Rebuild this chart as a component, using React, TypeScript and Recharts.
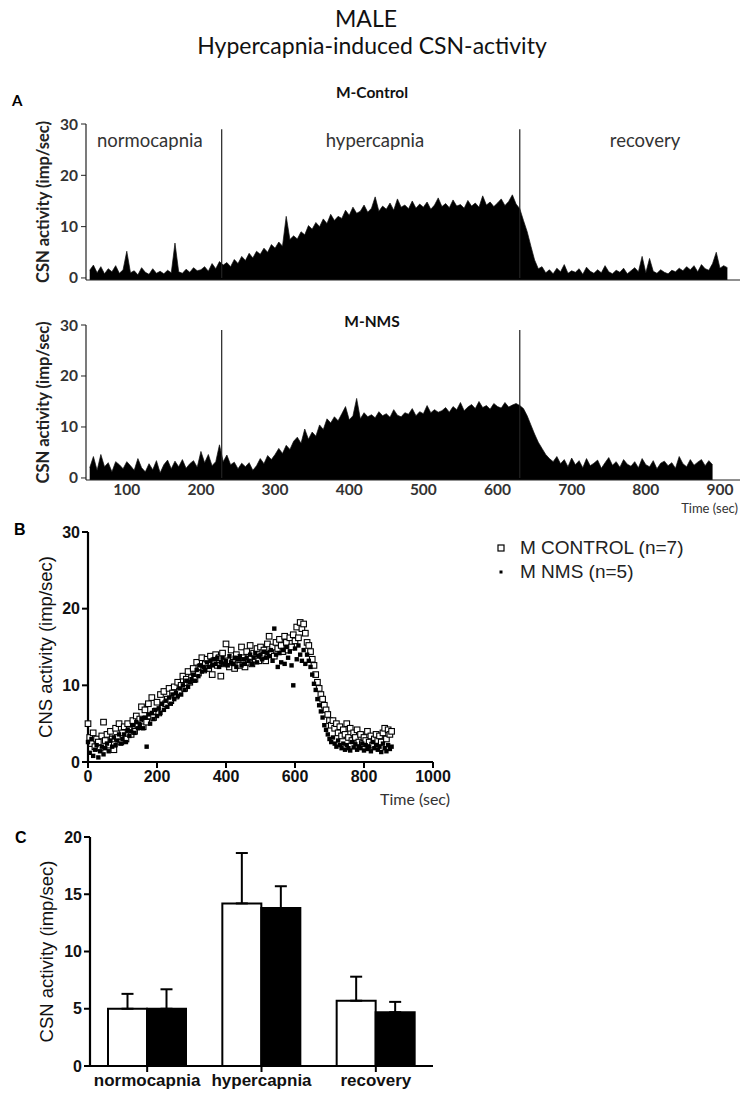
import React from "react";
import {
	Area,
	AreaChart,
	Bar,
	BarChart,
	ErrorBar,
	Legend,
	ReferenceLine,
	Scatter,
	ScatterChart,
	XAxis,
	YAxis,
} from "recharts";

// panel A: CSN firing histograms, 5 s bins starting at 50 s
const binStart = 50;
const binStep = 5;
const controlTrace = [
	1.5, 2.5, 1.0, 2.2, 0.8, 1.8, 1.2, 2.4, 0.9, 1.6, // 50-95
	5.2, 1.0, 1.4, 0.6, 2.0, 1.1, 0.7, 1.8, 0.9, 1.3, // 100-145
	0.8, 1.5, 1.0, 6.8, 1.2, 0.9, 1.7, 1.1, 2.0, 1.4, // 150-195
	1.6, 2.2, 1.3, 2.8, 1.8, 3.2, // 200-225
	2.5, 3.0, 2.2, 3.6, 2.8, 4.2, 3.4, 4.8, 3.9, 5.2, 4.6, 5.8, 5.0, 6.5, // 230-295
	5.8, 7.0, 6.2, 12.0, 7.5, 8.2, 7.6, 9.0, 8.4, 10.2, // 300-345
	9.5, 10.8, 10.0, 11.5, 10.6, 12.4, 11.2, 12.0, 11.6, 13.2, // 350-395
	12.2, 13.8, 12.6, 13.0, 14.2, 12.8, 13.6, 15.8, 13.0, 14.0, // 400-445
	13.4, 14.6, 13.2, 15.4, 13.8, 14.2, 13.5, 15.0, 13.6, 14.4, // 450-495
	13.8, 14.8, 13.4, 14.2, 15.6, 13.9, 14.5, 13.7, 15.2, 14.0, // 500-545
	14.3, 13.6, 15.1, 14.0, 14.6, 13.8, 16.0, 14.2, 14.8, 13.9, // 550-595
	14.6, 15.4, 14.1, 14.9, 16.2, 14.4, // 600-625
	13.5, 11.2, 9.0, 6.2, 3.5, 1.8, // 630-655
	2.2, 1.0, 1.6, 0.8, 1.9, 1.2, 2.6, 0.9, 1.4, 1.1, // 660-705
	1.8, 0.7, 2.1, 1.3, 0.9, 1.6, 1.0, 2.4, 1.2, 0.8, // 710-755
	1.5, 1.1, 1.9, 0.8, 1.4, 2.0, 1.2, 4.2, 1.0, 3.8, // 760-805
	1.3, 0.9, 1.6, 1.1, 0.8, 1.5, 1.2, 1.9, 1.4, 2.2, // 810-855
	1.6, 2.4, 1.2, 2.6, 1.8, 1.5, 2.8, 5.0, 1.9, 2.4, // 860-905
	2.0, // 910
];
const nmsTrace = [
	2.0, 4.2, 1.5, 4.6, 2.2, 3.0, 1.2, 3.2, 2.6, 1.8, // 50-95
	3.2, 2.4, 1.5, 3.8, 2.0, 1.2, 2.8, 1.6, 3.4, 1.0, // 100-145
	2.6, 3.5, 1.8, 3.3, 2.2, 3.6, 1.9, 2.8, 3.4, 2.1, // 150-195
	5.2, 3.0, 4.6, 2.4, 3.2, 6.5, // 200-225
	3.2, 4.5, 2.6, 3.1, 1.8, 2.9, 2.2, 3.0, 1.5, 2.4, // 230-275
	3.8, 2.8, 4.4, 3.6, 4.6, 5.8, 4.8, 6.4, 5.6, 7.2, // 280-325
	8.0, 6.8, 9.6, 7.6, 9.0, 8.2, 10.4, 9.5, 11.6, 10.8, // 330-375
	12.0, 11.2, 12.6, 14.0, 11.4, 12.2, 15.6, 11.6, 12.8, 12.0, // 380-425
	12.4, 11.8, 13.0, 12.2, 12.6, 11.9, 13.4, 12.3, 12.0, 12.8, // 430-475
	12.5, 13.6, 12.2, 13.0, 12.6, 14.2, 12.8, 13.4, 12.9, 13.2, // 480-525
	13.8, 12.9, 14.0, 13.4, 14.8, 13.2, 13.9, 14.4, 13.6, 15.0, // 530-575
	13.8, 14.2, 13.5, 14.6, 14.0, 13.7, 14.8, 13.9, 14.3, 14.6, // 580-625
	14.2, 13.6, 12.2, 10.4, 8.6, 7.0, 5.8, 4.6, 3.8, 3.2, // 630-675
	4.2, 2.8, 3.6, 2.2, 3.9, 2.6, 3.4, 2.0, 3.8, 2.4, // 680-725
	2.9, 3.5, 1.9, 3.0, 4.0, 2.5, 3.2, 2.1, 3.6, 2.7, // 730-775
	2.3, 3.2, 2.0, 3.8, 2.6, 2.2, 3.4, 1.8, 2.9, 3.3, // 780-825
	2.4, 3.0, 1.9, 4.2, 2.8, 2.2, 3.6, 2.5, 3.1, 3.6, // 830-875
	2.4, 3.4, 2.6, // 880-890
];
const traceTicks = [100, 200, 300, 400, 500, 600, 700, 800, 900];
const traceYTicks = [0, 10, 20, 30];
const stimulusTimes = [228, 630];
const stimulusPeak = 29;

// panel B: mean CSN activity, one value every 5 s from 0 s
const meanStep = 5;
const controlMean = [
	5.0, 3.2, 2.4, 3.8, 2.0, 3.0, 2.6, 1.8, 3.4, 5.2,
	2.8, 3.6, 2.2, 4.0, 3.0, 1.6, 4.4, 3.2, 5.0, 2.6,
	3.8, 4.6, 3.0, 5.0, 4.2, 3.6, 5.4, 4.0, 6.0, 4.8,
	5.6, 7.2, 4.6, 6.8, 5.2, 7.6, 6.0, 8.4, 5.8, 6.6,
	7.8, 6.4, 8.8, 7.0, 9.2, 7.6, 8.2, 9.6, 8.0, 9.0,
	9.8, 8.6, 10.4, 9.2, 10.0, 11.2, 9.6, 10.8, 11.8, 10.4,
	11.0, 12.2, 10.8, 13.0, 11.6, 12.4, 13.6, 12.0, 12.8, 13.4,
	12.2, 13.8, 11.4, 13.2, 14.0, 12.6, 13.6, 11.2, 14.2, 12.8,
	15.4, 13.2, 12.4, 14.6, 13.0, 12.2, 14.0, 13.4, 12.6, 15.0,
	13.6, 12.4, 14.4, 13.0, 15.2, 12.8, 14.2, 13.4, 14.8, 13.2,
	15.0, 13.8, 14.6, 13.2, 15.4, 16.4, 14.2, 15.0, 13.8, 15.6,
	14.8, 16.0, 15.2, 14.4, 16.4, 15.6, 14.6, 16.2, 15.0, 16.6,
	15.8, 17.6, 16.2, 18.2, 17.4, 18.0, 16.8, 15.6,
	15.2, 14.4, 13.4, 12.6, 11.4, 10.4, 9.6, 8.8, 8.2, 7.4,
	6.8, 6.2, 5.4, 4.8, 5.4, 4.4, 5.0, 3.8, 4.6, 3.4,
	4.2, 3.6, 5.0, 3.2, 4.4, 2.8, 3.8, 3.2, 4.2, 2.6,
	3.6, 2.4, 3.2, 2.8, 4.0, 2.6, 3.4, 2.2, 3.0, 3.6,
	2.8, 3.4, 2.6, 3.8, 4.4, 3.0, 4.2, 3.6, 4.0,
];
const nmsMean = [
	2.6, 1.2, 3.0, 0.8, 1.6, 2.2, 0.6, 1.4, 2.0, 1.0,
	1.8, 2.4, 1.4, 2.8, 2.0, 3.2, 2.2, 2.8, 3.6, 2.4,
	3.0, 3.6, 2.6, 4.2, 3.4, 4.0, 4.8, 3.8, 5.2, 4.4,
	4.8, 5.6, 4.4, 5.8, 2.0, 6.2, 5.0, 6.4, 5.6, 6.8,
	6.0, 7.0, 6.4, 7.6, 6.8, 8.0, 7.2, 8.4, 7.6, 8.8,
	8.2, 9.0, 8.6, 9.6, 8.8, 10.0, 9.4, 10.6, 9.8, 10.4,
	10.8, 11.4, 10.6, 12.0, 11.2, 12.6, 11.8, 12.4, 12.0, 13.0,
	12.4, 13.2, 12.6, 13.4, 12.8, 13.6, 12.4, 13.0, 13.6, 12.8,
	13.2, 12.6, 13.8, 13.0, 12.8, 13.6, 12.4, 13.4, 13.8, 12.6,
	13.4, 12.8, 13.6, 13.2, 14.0, 12.8, 13.6, 14.2, 13.0, 13.8,
	14.0, 13.4, 14.4, 13.6, 14.2, 13.8, 14.6, 13.2, 17.4, 14.0,
	12.4, 14.2, 13.0, 14.6, 12.8, 15.0, 13.6, 14.4, 12.6, 10.0,
	14.8, 13.4, 15.2, 14.0, 13.2, 14.6, 12.8, 14.0,
	13.2, 12.4, 11.4, 10.2, 9.4, 8.2, 7.4, 6.6, 5.8, 4.8,
	4.2, 3.6, 3.0, 2.6, 3.2, 2.4, 2.0, 2.8, 2.2, 1.8,
	2.4, 1.6, 2.2, 1.8, 1.5, 2.6, 1.9, 2.3, 1.6, 2.0,
	1.8, 2.4, 1.5, 2.2, 1.7, 2.0, 1.4, 2.6, 1.8, 2.2,
	1.6, 2.0, 1.3, 2.4, 1.8, 1.4, 2.2, 1.7, 2.0,
];
const meanXTicks = [0, 200, 400, 600, 800, 1000];
const meanYTicks = [0, 10, 20, 30];

// panel C: phase averages (mean, upper SEM)
const phases = ["normocapnia", "hypercapnia", "recovery"];
const controlAvg = [5.0, 14.2, 5.7];
const controlErr = [1.3, 4.4, 2.1];
const nmsAvg = [5.0, 13.8, 4.7];
const nmsErr = [1.7, 1.9, 0.9];
const avgTicks = [0, 5, 10, 15, 20];

const controlRows = controlTrace.map((v, i) => ({ t: binStart + i * binStep, v }));
const nmsRows = nmsTrace.map((v, i) => ({ t: binStart + i * binStep, v }));
const controlPts = controlMean.map((y, i) => ({ x: i * meanStep, y }));
const nmsPts = nmsMean.map((y, i) => ({ x: i * meanStep, y }));
const phaseRows = phases.map((name, i) => ({
	name,
	ctrl: controlAvg[i],
	ctrlErr: [0, controlErr[i]],
	nms: nmsAvg[i],
	nmsErr: [0, nmsErr[i]],
}));

const calibri = "Lato, 'Open Sans', sans-serif";
const arial = "'Liberation Sans', Arial, sans-serif";

const Txt = ({
	x,
	y,
	anchor = "middle",
	style,
	children,
}: {
	x: number;
	y: number;
	anchor?: "start" | "middle" | "end";
	style?: React.CSSProperties;
	children: React.ReactNode;
}) => {
	const tx = anchor === "start" ? "0" : anchor === "end" ? "-100%" : "-50%";
	return (
		<div
			style={{
				position: "absolute",
				left: x,
				top: y,
				transform: `translate(${tx}, -50%)`,
				whiteSpace: "nowrap",
				lineHeight: 1,
				...style,
			}}
		>
			{children}
		</div>
	);
};

const traceTick = { fontSize: 15.5, fontWeight: 700, fill: "#333", fontFamily: calibri };
const traceLabel = {
	value: "CSN activity (imp/sec)",
	angle: -90,
	position: "center" as const,
	fontSize: 16.5,
	fontWeight: 700,
	fill: "#222",
	fontFamily: calibri,
};

const TracePanel = ({
	rows,
	top,
	height,
	marginTop,
	axisHeight,
	showTicks,
}: {
	rows: { t: number; v: number }[];
	top: number;
	height: number;
	marginTop: number;
	axisHeight: number;
	showTicks: boolean;
}) => (
	<div style={{ position: "absolute", left: 0, top }}>
		<AreaChart
			width={744}
			height={height}
			data={rows}
			margin={{ top: marginTop, right: 4, bottom: 0, left: 0 }}
		>
			<XAxis
				dataKey="t"
				type="number"
				domain={[45, 927]}
				ticks={traceTicks}
				height={axisHeight}
				tick={showTicks ? traceTick : false}
				tickLine={false}
				tickSize={3}
				tickMargin={1}
				axisLine={{ stroke: "#222", strokeWidth: 1.2 }}
				label={
					showTicks
						? {
								value: "Time (sec)",
								position: "insideBottomRight",
								offset: 2,
								fontSize: 13,
								fill: "#333",
								fontFamily: calibri,
							}
						: undefined
				}
			/>
			<YAxis
				width={86}
				domain={[-0.4, 30]}
				ticks={traceYTicks}
				allowDataOverflow
				tickSize={5}
				tickMargin={3}
				tick={traceTick}
				axisLine={{ stroke: "#222", strokeWidth: 1.2 }}
				tickLine={{ stroke: "#222" }}
				label={traceLabel}
			/>
			<Area
				dataKey="v"
				type="linear"
				stroke="#111"
				strokeWidth={0.7}
				fill="#000"
				fillOpacity={1}
				baseValue={-0.4}
				dot={false}
				activeDot={false}
				isAnimationActive={false}
			/>
			{stimulusTimes.map((s) => (
				<ReferenceLine
					key={s}
					segment={[
						{ x: s, y: 0 },
						{ x: s, y: stimulusPeak },
					]}
					stroke="#222"
					strokeWidth={1.2}
				/>
			))}
		</AreaChart>
	</div>
);

const OpenSquare = (p: any) => (
	<rect x={p.cx - 2.8} y={p.cy - 2.8} width={5.6} height={5.6} fill="#fff" stroke="#000" strokeWidth={1.1} />
);
const FilledSquare = (p: any) => (
	<rect x={p.cx - 2.2} y={p.cy - 2.2} width={4.4} height={4.4} fill="#000" />
);

const MeanLegend = (props: any) => (
	<div style={{ fontFamily: arial, fontSize: 19, color: "#222" }}>
		{(props.payload || []).map((entry: any, i: number) => (
			<div key={entry.value} style={{ display: "flex", alignItems: "center", height: 24 }}>
				<svg width={26} height={10}>
					{i === 0 ? (
						<rect x={4} y={2} width={6} height={6} fill="#fff" stroke="#000" strokeWidth={1.2} />
					) : (
						<rect x={5.5} y={3.5} width={3} height={3} fill="#000" />
					)}
				</svg>
				<span>{entry.value}</span>
			</div>
		))}
	</div>
);

const boldAxisTick = { fontSize: 16, fontWeight: 700, fill: "#111", fontFamily: arial };

export default function App() {
	return (
		<div
			style={{
				position: "absolute",
				left: 0,
				top: 0,
				width: 744,
				height: 1097,
				background: "#fff",
				overflow: "hidden",
			}}
		>
			<Txt x={366} y={18} style={{ fontFamily: calibri, fontSize: 23, color: "#111" }}>
				MALE
			</Txt>
			<Txt x={372} y={45} style={{ fontFamily: calibri, fontSize: 23, color: "#111" }}>
				Hypercapnia-induced CSN-activity
			</Txt>

			<Txt x={12} y={100} anchor="start" style={{ fontFamily: calibri, fontSize: 15, fontWeight: 700 }}>
				A
			</Txt>
			<Txt x={372} y={93} style={{ fontFamily: calibri, fontSize: 15.5, fontWeight: 700, color: "#111" }}>
				M-Control
			</Txt>
			<Txt x={372} y={322} style={{ fontFamily: calibri, fontSize: 15.5, fontWeight: 700, color: "#111" }}>
				M-NMS
			</Txt>

			<TracePanel rows={controlRows} top={100} height={190} marginTop={24} axisHeight={10} showTicks={false} />
			<TracePanel rows={nmsRows} top={300} height={215} marginTop={25} axisHeight={35} showTicks />

			<Txt x={97} y={140} anchor="start" style={{ fontFamily: calibri, fontSize: 18.5, color: "#333" }}>
				{phases[0]}
			</Txt>
			<Txt x={375} y={140} style={{ fontFamily: calibri, fontSize: 18.5, color: "#333" }}>
				{phases[1]}
			</Txt>
			<Txt x={645} y={140} style={{ fontFamily: calibri, fontSize: 18.5, color: "#333" }}>
				{phases[2]}
			</Txt>

			<Txt x={14} y={530} anchor="start" style={{ fontFamily: arial, fontSize: 16, fontWeight: 700 }}>
				B
			</Txt>
			<div style={{ position: "absolute", left: 0, top: 500 }}>
				<ScatterChart width={744} height={310} margin={{ top: 32, right: 311, bottom: 0, left: 0 }}>
					<XAxis
						dataKey="x"
						type="number"
						domain={[0, 1000]}
						ticks={meanXTicks}
						height={48}
						tickSize={6}
						tickMargin={3}
						tick={boldAxisTick}
						axisLine={{ stroke: "#000", strokeWidth: 2.2 }}
						tickLine={{ stroke: "#000", strokeWidth: 2 }}
					/>
					<YAxis
						dataKey="y"
						type="number"
						width={88}
						domain={[0, 30]}
						ticks={meanYTicks}
						tickSize={6}
						tickMargin={2}
						tick={boldAxisTick}
						axisLine={{ stroke: "#000", strokeWidth: 2.2 }}
						tickLine={{ stroke: "#000", strokeWidth: 2 }}
						label={{
							value: "CNS activity (imp/sec)",
							angle: -90,
							position: "center",
							dx: 1,
							fontSize: 18.5,
							fill: "#111",
							fontFamily: arial,
						}}
					/>
					<Scatter name="M CONTROL (n=7)" data={controlPts} shape={OpenSquare} isAnimationActive={false} />
					<Scatter name="M NMS (n=5)" data={nmsPts} shape={FilledSquare} isAnimationActive={false} />
					<Legend
						layout="horizontal"
						verticalAlign="middle"
						align="center"
						content={MeanLegend}
						wrapperStyle={{ position: "absolute", left: 494, top: 36, width: 240 }}
					/>
				</ScatterChart>
			</div>
			<Txt x={450} y={799} anchor="end" style={{ fontFamily: calibri, fontSize: 16, color: "#333" }}>
				Time (sec)
			</Txt>

			<Txt x={15} y={838} anchor="start" style={{ fontFamily: arial, fontSize: 16, fontWeight: 700 }}>
				C
			</Txt>
			<div style={{ position: "absolute", left: 0, top: 820 }}>
				<BarChart
					width={744}
					height={277}
					data={phaseRows}
					margin={{ top: 17, right: 311, bottom: 0, left: 0 }}
					barGap={0}
				>
					<XAxis
						dataKey="name"
						height={31}
						tickSize={6}
						tickMargin={2}
						tick={{ ...boldAxisTick, fontSize: 17 }}
						axisLine={{ stroke: "#000", strokeWidth: 2.2 }}
						tickLine={{ stroke: "#000", strokeWidth: 2 }}
					/>
					<YAxis
						width={90}
						domain={[0, 20]}
						ticks={avgTicks}
						tickSize={6}
						tickMargin={2}
						tick={boldAxisTick}
						axisLine={{ stroke: "#000", strokeWidth: 2.2 }}
						tickLine={{ stroke: "#000", strokeWidth: 2 }}
						label={{
							value: "CSN activity (imp/sec)",
							angle: -90,
							position: "center",
							dx: 1,
							fontSize: 18.5,
							fill: "#111",
							fontFamily: arial,
						}}
					/>
					<Bar dataKey="ctrl" barSize={39} fill="#fff" stroke="#000" strokeWidth={2} isAnimationActive={false}>
						<ErrorBar dataKey="ctrlErr" direction="y" width={6} stroke="#000" strokeWidth={2} />
					</Bar>
					<Bar dataKey="nms" barSize={39} fill="#000" stroke="#000" strokeWidth={2} isAnimationActive={false}>
						<ErrorBar dataKey="nmsErr" direction="y" width={6} stroke="#000" strokeWidth={2} />
					</Bar>
				</BarChart>
			</div>
		</div>
	);
}
